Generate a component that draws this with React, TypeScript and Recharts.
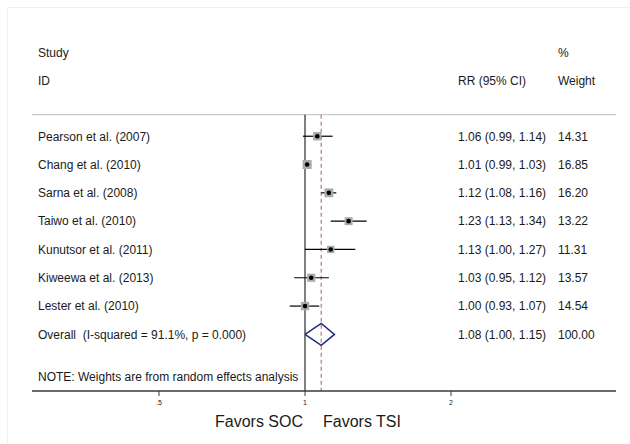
import React from "react";
import {
  ComposedChart,
  Scatter,
  XAxis,
  YAxis,
  ReferenceLine,
} from "recharts";

const studies = [
  "Pearson et al. (2007)",
  "Chang et al. (2010)",
  "Sarna et al. (2008)",
  "Taiwo et al. (2010)",
  "Kunutsor et al. (2011)",
  "Kiweewa et al. (2013)",
  "Lester et al. (2010)",
];
const rr = [1.06, 1.01, 1.12, 1.23, 1.13, 1.03, 1.0];
const lower = [0.99, 0.99, 1.08, 1.13, 1.0, 0.95, 0.93];
const upper = [1.14, 1.03, 1.16, 1.34, 1.27, 1.12, 1.07];
const weights = [14.31, 16.85, 16.2, 13.22, 11.31, 13.57, 14.54];

const overallLabel = "Overall  (I-squared = 91.1%, p = 0.000)";
const overallRR = 1.08;
const overallLower = 1.0;
const overallUpper = 1.15;
const overallWeight = 100.0;

const note = "NOTE: Weights are from random effects analysis";
const xTicks = [0.5, 1, 2];
const xTickLabels = [".5", "1", "2"];

const FONT = '"Liberation Sans", Arial, Helvetica, sans-serif';
const TEXT = "#1a1a1a";
const NAVY = "#1f2a86";

// row layout (y axis is the row index, reversed)
const overallRow = studies.length;
const noteRow = overallRow + 1.5;
const axisRow = overallRow + 2;
const topLineRow = -0.76;
const diamondHalf = 0.39;

const fmt = (v: number) => v.toFixed(2);
const ciText = (e: number, l: number, u: number) =>
  `${fmt(e)} (${fmt(l)}, ${fmt(u)})`;

const studyData = studies.map((s, i) => ({
  x: rr[i],
  y: i,
  label: s,
  ci: ciText(rr[i], lower[i], upper[i]),
  weight: weights[i],
}));

const diamondData = [
  { x: overallLower, y: overallRow },
  { x: overallRR, y: overallRow - diamondHalf },
  { x: overallUpper, y: overallRow },
  { x: overallRR, y: overallRow + diamondHalf },
  { x: overallLower, y: overallRow },
];

const textRows = [
  { x: 1, y: -3, a: "Study", b: "", c: "%" },
  { x: 1, y: -2, a: "ID", b: "RR (95% CI)", c: "Weight" },
  {
    x: 1,
    y: overallRow,
    a: overallLabel,
    b: ciText(overallRR, overallLower, overallUpper),
    c: overallWeight.toFixed(2),
  },
  { x: 1, y: noteRow, a: note, b: "", c: "" },
];

const COL_A = 38;
const COL_B = 458;
const COL_C = 558;

function rowText(cy: number, a: string, b: string, c: string, dy = 0) {
  const common = {
    fontFamily: FONT,
    fontSize: 12,
    fill: TEXT,
    dy: "0.36em",
    style: { whiteSpace: "pre" as const },
  };
  return (
    <g>
      <text x={COL_A} y={cy + dy} {...common}>{a}</text>
      {b && <text x={COL_B} y={cy + dy} {...common}>{b}</text>}
      {c && <text x={COL_C} y={cy + dy} {...common}>{c}</text>}
    </g>
  );
}

function StudyShape(props: any) {
  const { cx, cy, payload } = props;
  const side = 2.2 * Math.sqrt(payload.weight);
  return (
    <g>
      <rect
        x={cx - side / 2}
        y={cy - side / 2}
        width={side}
        height={side}
        fill="#ababab"
      />
      <circle cx={cx} cy={cy} r={2.3} fill="#000" />
      {rowText(cy, payload.label, payload.ci, payload.weight.toFixed(2))}
    </g>
  );
}

function TextShape(props: any) {
  const { cy, payload } = props;
  const dy = payload.y < 0 ? 1.5 : 0;
  return rowText(cy, payload.a, payload.b, payload.c, dy);
}

function FavorsShape(props: any) {
  const { cx, cy } = props;
  return (
    <g fontFamily={FONT} fontSize={16} fill={TEXT}>
      <text x={cx - 2} y={cy + 36} textAnchor="end">Favors SOC</text>
      <text x={cx + 18} y={cy + 36}>Favors TSI</text>
    </g>
  );
}

export default function App() {
  return (
    <div
      style={{
        position: "fixed",
        left: 0,
        top: 0,
        width: 630,
        height: 444,
        overflow: "hidden",
        background: "#fff",
      }}
    >
      <div
        style={{
          position: "absolute",
          left: 7,
          top: 7,
          width: 623,
          height: 437,
          borderLeft: "1px solid #efefef",
          borderTop: "1px solid #efefef",
          boxSizing: "border-box",
        }}
      />
      <ComposedChart
        width={630}
        height={444}
        margin={{ top: 23, right: 14, bottom: 23, left: 32 }}
        style={{ position: "absolute", left: 0, top: 0 }}
      >
        <XAxis
          type="number"
          dataKey="x"
          scale="log"
          domain={[0.2736, 4.377]}
          ticks={xTicks}
          height={30}
          tickFormatter={(v: number) => xTickLabels[xTicks.indexOf(v)] ?? String(v)}
          tick={{ fontSize: 7, fill: TEXT, fontFamily: FONT }}
          tickSize={5}
          tickMargin={4}
          axisLine={{ stroke: "#3a3a3a", strokeWidth: 1.5 }}
          tickLine={{ stroke: "#3a3a3a", strokeWidth: 1 }}
        />
        <YAxis
          type="number"
          dataKey="y"
          domain={[-4, axisRow]}
          reversed
          hide
        />
        <ReferenceLine y={topLineRow} stroke="#c9c9c9" strokeWidth={1.2} />
        <ReferenceLine
          segment={[
            { x: 1, y: topLineRow },
            { x: 1, y: axisRow },
          ]}
          stroke="#000"
          strokeWidth={1}
        />
        <ReferenceLine
          segment={[
            { x: overallRR, y: topLineRow },
            { x: overallRR, y: axisRow },
          ]}
          stroke="#b7848a"
          strokeWidth={1.3}
          strokeDasharray="4 3"
        />
        {studies.map((s, i) => (
          <ReferenceLine
            key={s}
            segment={[
              { x: lower[i], y: i },
              { x: upper[i], y: i },
            ]}
            stroke="#000"
            strokeWidth={1.2}
          />
        ))}
        <Scatter
          data={studyData}
          shape={StudyShape}
          isAnimationActive={false}
        />
        <Scatter
          data={diamondData}
          line={{ stroke: NAVY, strokeWidth: 1.5 }}
          shape={() => <g />}
          isAnimationActive={false}
        />
        <Scatter data={textRows} shape={TextShape} isAnimationActive={false} />
        <Scatter
          data={[{ x: 1, y: axisRow }]}
          shape={FavorsShape}
          isAnimationActive={false}
        />
      </ComposedChart>
    </div>
  );
}
